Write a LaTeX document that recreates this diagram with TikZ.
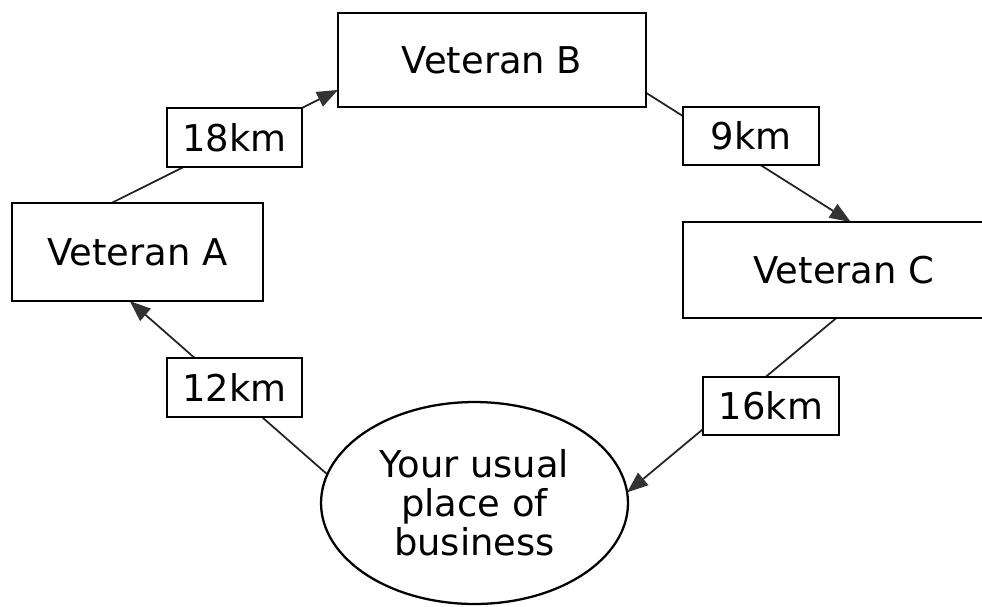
\documentclass[tikz,border=0pt]{standalone}
\usepackage{fontspec}
\setmainfont{DejaVu Sans}
\usetikzlibrary{arrows.meta,shapes.geometric,backgrounds}
\definecolor{linegray}{HTML}{222222}
\definecolor{tipgray}{HTML}{333333}
\tikzset{
  vetbox/.style={draw=black, line width=1.5pt, fill=white, inner sep=0pt, outer sep=0pt,
    font=\fontsize{21}{22}\selectfont},
  kmbox/.style={draw=black, line width=1.3pt, fill=white, inner sep=0pt, outer sep=0pt,
    font=\fontsize{21}{22}\selectfont},
  homeoval/.style={draw=black, line width=1.3pt, fill=white, ellipse, inner sep=0pt, outer sep=0pt,
    align=center, font=\fontsize{21}{22.2}\selectfont},
  conn/.style={draw=linegray, line width=1pt,
    -{Triangle[length=0.42cm,width=0.32cm,fill=tipgray,color=tipgray]}}
}
\begin{document}
\begin{tikzpicture}[x=0.02cm,y=-0.02cm]
\useasboundingbox (0,0) rectangle (982,606);
\clip (0,0) rectangle (982,606);
\node[vetbox, minimum width=6.16cm, minimum height=1.88cm] (B) at (492,60) {Veteran B};
\node[vetbox, minimum width=5.02cm, minimum height=1.96cm] (A) at (137.5,252) {Veteran A\hspace{0.2cm}};
\node[vetbox, minimum width=6.44cm, minimum height=1.92cm] (C) at (844,270) {Veteran C};
\node[homeoval, minimum width=6.14cm, minimum height=4.04cm] (E) at (474.5,503) {Your usual\\place of\\business};
\node[kmbox, minimum width=2.70cm, minimum height=1.18cm] (k18) at (234.5,137.5) {18km};
\node[kmbox, minimum width=2.72cm, minimum height=1.16cm] (k9) at (751,136) {9km};
\node[kmbox, minimum width=2.70cm, minimum height=1.18cm] (k12) at (234.5,387.5) {12km};
\node[kmbox, minimum width=2.72cm, minimum height=1.16cm] (k16) at (771,406) {16km};
\begin{scope}[on background layer]
\draw[conn] (A.118) -- (B.191.4);
\draw[conn] (B.348.2) -- (C.82.9);
\draw[conn] (C.261.9) -- (E.4.5);
\draw[conn] (E.169.6) -- (A.261.5);
\end{scope}
\end{tikzpicture}
\end{document}
